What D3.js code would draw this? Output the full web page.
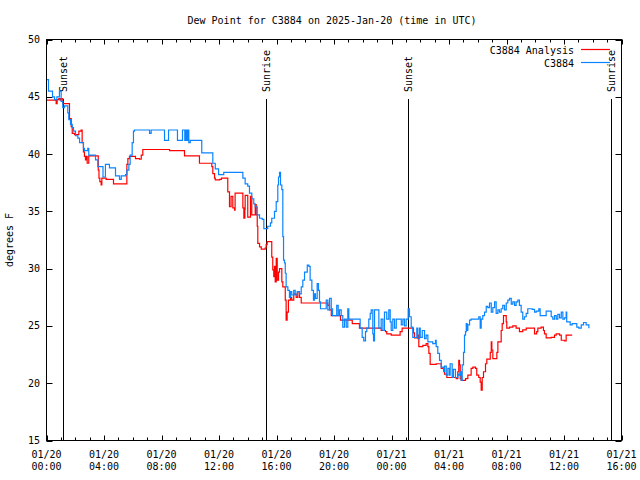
<!DOCTYPE html>
<html>
<head>
<meta charset="utf-8">
<title>Dew Point for C3884</title>
<script src="https://cdn.jsdelivr.net/npm/d3@7"></script>
<style>
  body { margin: 0; background: #fff; }
  svg { display: block; font-family: "DejaVu Sans Mono", monospace; font-size: 10px; }
  .frame { fill: none; stroke: #000; }
  .tick { stroke: #000; }
  .series { fill: none; stroke-width: 1.2; }
</style>
</head>
<body>
<svg width="640" height="480"></svg>
<script>
// hours since 2025-01-20 00:00 UTC
const obsHours = [0,0.14,0.42,0.56,0.72,0.90,1.02,1.13,1.25,1.48,
  1.55,1.67,1.79,1.88,2.02,2.18,2.30,2.57,2.64,2.87,
  2.94,3.41,3.57,3.93,4.10,4.38,4.80,5.08,5.20,5.50,
  5.59,5.73,5.82,5.96,6.05,6.12,7.17,7.28,8.21,8.49,
  9.11,9.46,9.62,9.69,9.76,9.83,9.90,10.00,10.80,11.57,
  11.74,11.97,12.33,13.66,13.82,14.00,14.12,14.28,14.42,14.52,
  14.66,14.82,15.01,15.12,15.39,15.58,15.67,15.86,15.98,16.09,
  16.14,16.21,16.28,16.37,16.44,16.49,16.56,16.61,16.67,16.79,
  16.90,16.97,17.06,17.20,17.30,17.44,17.60,17.72,17.83,17.95,
  18.14,18.25,18.34,18.46,18.57,18.64,18.71,18.83,18.92,18.99,
  19.06,19.46,19.57,19.69,19.81,19.90,20.19,20.29,20.38,20.50,
  20.61,20.73,20.85,20.96,21.03,21.82,21.96,22.07,22.19,22.28,
  22.42,22.52,22.59,22.70,22.75,22.82,23.12,23.28,23.40,23.51,
  23.67,23.81,23.91,23.98,24.09,24.21,24.33,24.68,24.79,24.90,
  25.02,25.16,25.25,25.37,25.48,25.76,25.83,25.95,26.00,26.14,
  26.30,26.41,26.53,26.87,27.06,27.11,27.22,27.34,27.46,27.62,
  27.69,27.81,27.92,28.03,28.08,28.22,28.31,28.45,28.61,28.68,
  28.78,28.85,28.92,29.01,29.08,29.15,29.20,29.26,29.31,29.43,
  29.54,30.07,30.17,30.24,30.35,30.47,30.59,30.70,30.82,30.94,
  31.05,31.17,31.28,31.40,31.51,31.63,31.74,31.86,31.98,32.09,
  32.21,32.33,32.44,32.56,32.67,32.79,32.90,33.02,33.13,33.25,
  33.37,33.48,33.79,33.95,34.07,34.25,34.34,34.76,35.11,35.22,
  35.34,35.46,35.57,35.69,35.81,35.92,36.03,36.15,36.19,36.43,
  36.57,36.73,36.89,37.03,37.20,37.36,37.54,37.73];
const obsDew = [46.5,45.5,45.0,44.75,45.0,45.5,44.6,44.05,44.2,43.6,
  43.0,42.6,42.3,42.0,41.6,41.4,41.0,40.5,40.3,40.5,
  39.9,39.5,38.9,38.0,39.1,38.8,38.1,37.8,38.1,38.2,
  38.6,39.1,39.9,41.0,42.0,42.1,41.8,42.1,41.2,42.1,
  41.2,42.1,41.2,42.1,41.2,42.1,41.0,41.2,40.1,39.2,
  38.7,38.2,38.4,37.9,37.4,37.2,36.6,36.1,35.65,35.4,
  34.7,34.4,34.3,33.5,33.7,34.0,34.4,35.0,35.85,37.3,
  38.0,38.4,37.3,36.9,32.8,30.75,30.5,29.6,28.4,28.1,
  27.5,28.0,27.7,28.1,27.7,28.0,27.8,28.4,29.0,29.7,
  30.3,30.2,29.0,28.1,27.25,27.8,27.4,28.7,28.1,27.1,
  26.5,27.25,26.4,27.4,26.5,25.9,26.8,25.9,26.4,25.9,
  24.9,25.6,24.9,26.5,25.6,24.8,24.0,23.7,24.5,24.8,
  25.6,26.1,26.4,24.3,23.7,26.4,24.8,25.6,24.6,26.2,
  25.6,26.4,25.35,24.6,25.6,24.8,25.6,25.1,25.6,25.0,
  25.6,26.5,25.8,24.9,24.0,24.8,23.9,24.8,24.0,24.6,
  23.9,24.2,23.6,23.45,23.75,23.2,22.6,22.0,21.4,21.0,
  21.5,20.7,21.3,20.7,21.7,20.5,21.2,20.5,20.8,20.7,
  21.0,20.25,21.6,22.7,24.2,24.5,25.2,24.6,25.1,25.5,
  25.6,25.8,24.8,25.6,25.9,26.2,26.7,26.6,27.0,26.2,
  26.6,27.1,26.1,26.4,26.2,26.5,26.8,26.4,27.0,27.25,
  27.4,26.9,27.1,26.8,27.1,27.25,26.8,26.2,25.6,25.8,
  26.1,26.5,26.45,26.2,26.3,26.5,25.9,26.3,25.8,25.6,
  25.9,25.6,26.0,25.7,26.2,25.6,25.7,26.2,25.35,25.1,
  25.2,25.2,24.9,24.8,25.1,25.3,25.1,24.8];

const anaHours = [0,0.67,0.74,0.86,0.95,1.02,1.13,1.60,1.72,1.79,
  1.95,2.25,2.41,2.48,2.57,2.64,2.71,2.76,2.83,2.94,
  3.60,3.65,3.71,3.80,3.85,4.15,4.66,5.59,5.66,5.77,
  6.19,6.47,6.59,6.70,8.56,9.60,10.64,11.50,11.57,11.69,
  11.74,12.05,12.17,12.61,12.73,12.84,12.96,13.08,13.12,13.66,
  13.73,13.80,13.82,14.00,14.19,14.28,14.52,14.59,14.66,14.70,
  14.82,14.94,15.21,15.28,15.35,15.67,15.74,15.81,15.86,15.91,
  15.98,16.05,16.14,16.21,16.37,16.44,16.61,16.67,16.74,16.83,
  16.97,17.06,17.20,17.37,17.48,17.60,17.72,19.57,19.69,19.81,
  20.45,21.27,21.77,23.28,23.58,23.67,23.98,24.60,24.74,25.53,
  25.60,25.83,25.90,26.18,26.41,26.53,26.60,26.69,27.11,27.46,
  27.69,27.85,28.50,28.61,28.68,28.73,28.78,28.85,29.15,29.31,
  29.54,29.66,29.84,29.93,30.07,30.17,30.24,30.31,30.40,30.54,
  30.63,30.87,30.94,30.98,31.05,31.33,31.40,31.63,31.70,31.79,
  31.98,32.02,32.21,32.44,32.67,32.90,33.13,33.37,33.95,34.10,
  34.18,34.41,34.57,34.64,34.76,35.11,35.34,35.46,35.69,35.81,
  36.03,36.15,36.57];
const anaDew = [44.7,44.4,44.75,44.85,44.7,44.85,44.4,43.1,42.4,41.8,
  41.7,42.0,42.1,41.0,40.2,39.8,39.5,39.8,39.2,39.85,
  38.6,37.9,37.6,37.3,37.9,37.8,37.4,39.1,39.6,39.8,
  39.6,39.55,39.9,40.4,40.3,39.85,39.2,38.9,38.3,37.9,
  37.75,37.8,37.9,36.7,35.4,36.3,35.3,35.1,36.6,35.3,
  34.4,35.2,36.4,34.5,36.3,34.7,35.6,34.7,33.7,32.2,
  31.9,31.7,31.8,32.1,32.35,31.0,29.9,29.3,30.2,28.85,
  30.9,29.0,29.7,30.0,28.85,28.4,27.25,25.5,26.2,27.25,
  27.5,27.25,27.8,27.5,28.0,27.5,27.0,26.8,26.4,25.9,
  25.5,25.2,24.8,24.6,24.5,24.3,24.2,24.5,24.8,24.4,
  23.95,24.2,23.2,23.3,23.45,23.2,22.6,21.65,21.7,21.3,
  20.8,20.5,20.4,21.0,22.0,21.6,20.4,20.25,20.4,20.7,
  21.3,21.4,21.3,20.7,20.5,20.1,19.4,20.5,21.0,21.7,
  22.1,22.7,23.6,22.9,22.15,22.7,23.6,24.6,25.2,25.9,
  25.35,24.8,24.9,25.0,24.8,24.5,24.65,24.8,24.3,24.5,
  24.8,24.9,24.6,24.3,23.95,24.0,24.2,24.3,24.2,23.75,
  23.7,24.2,24.2];

const sunHours = [1.13, 15.28, 25.16, 39.3];
const sunNames = ["Sunset", "Sunrise", "Sunset", "Sunrise"];
const seriesNames = ["C3884 Analysis", "C3884"];
const seriesColors = ["#ff0000", "#0a84ff"];
const yTicks = [15, 20, 25, 30, 35, 40, 45, 50];

const t0 = Date.UTC(2025, 0, 20, 0, 0);
const toDate = h => new Date(t0 + h * 3600e3);

const svg = d3.select("svg");
const plotLeft = 46.5, plotRight = 621.5, plotTop = 39.5, plotBottom = 440.5;

const x = d3.scaleUtc().domain([toDate(0), toDate(40)]).range([plotLeft, plotRight]);
const y = d3.scaleLinear().domain([15, 50]).range([plotBottom, plotTop]);

svg.append("text")
  .attr("x", 332).attr("y", 24)
  .attr("text-anchor", "middle")
  .text("Dew Point for C3884 on 2025-Jan-20 (time in UTC)");

svg.append("text")
  .attr("transform", "translate(13,240) rotate(-90)")
  .attr("text-anchor", "middle")
  .text("degrees F");

// x ticks, hourly minor, 4-hourly major with labels
const hours = x.ticks(d3.utcHour.every(1));
hours.forEach(d => {
  const major = d.getUTCHours() % 4 === 0;
  const len = major ? 5 : 3;
  const px = Math.round(x(d)) + 0.5;
  svg.append("line").attr("class", "tick")
    .attr("x1", px).attr("x2", px).attr("y1", plotBottom).attr("y2", plotBottom - len);
  svg.append("line").attr("class", "tick")
    .attr("x1", px).attr("x2", px).attr("y1", plotTop).attr("y2", plotTop + len);
  if (major) {
    const t = svg.append("text").attr("text-anchor", "middle");
    t.append("tspan").attr("x", x(d)).attr("y", 458).text(d3.utcFormat("%m/%d")(d));
    t.append("tspan").attr("x", x(d)).attr("y", 470).text(d3.utcFormat("%H:%M")(d));
  }
});

yTicks.forEach(v => {
  const py = Math.round(y(v)) + 0.5;
  svg.append("line").attr("class", "tick")
    .attr("x1", plotLeft).attr("x2", plotLeft + 6).attr("y1", py).attr("y2", py);
  svg.append("line").attr("class", "tick")
    .attr("x1", plotRight).attr("x2", plotRight - 6).attr("y1", py).attr("y2", py);
  svg.append("text")
    .attr("x", 40).attr("y", y(v)).attr("dy", "0.35em")
    .attr("text-anchor", "end")
    .text(v);
});

svg.append("clipPath").attr("id", "plot")
  .append("rect").attr("x", plotLeft).attr("y", plotTop)
  .attr("width", plotRight - plotLeft).attr("height", plotBottom - plotTop);

// sunrise / sunset markers
sunHours.forEach((h, i) => {
  const px = Math.round(x(toDate(h))) + 0.5;
  svg.append("line").attr("class", "tick")
    .attr("x1", px).attr("x2", px).attr("y1", 99).attr("y2", plotBottom);
  svg.append("text")
    .attr("transform", `translate(${px},92) rotate(-90)`)
    .attr("dy", "0.35em")
    .text(sunNames[i]);
});

const line = d3.line()
  .x(d => x(toDate(d[0])))
  .y(d => y(d[1]))
  .curve(d3.curveStepAfter);

const series = [
  d3.zip(anaHours, anaDew),
  d3.zip(obsHours, obsDew)
];

series.forEach((s, i) => {
  svg.append("path")
    .attr("class", "series")
    .attr("clip-path", "url(#plot)")
    .attr("stroke", seriesColors[i])
    .attr("d", line(s));
});

// legend
seriesNames.forEach((name, i) => {
  const ly = 50 + i * 13;
  svg.append("text")
    .attr("x", 574).attr("y", ly).attr("dy", "0.35em")
    .attr("text-anchor", "end")
    .text(name);
  svg.append("line")
    .attr("x1", 581).attr("x2", 610)
    .attr("y1", ly - 0.5).attr("y2", ly - 0.5)
    .attr("stroke", seriesColors[i]).attr("stroke-width", 1.2);
});

svg.append("rect").attr("class", "frame")
  .attr("x", plotLeft).attr("y", plotTop)
  .attr("width", plotRight - plotLeft).attr("height", plotBottom - plotTop);
</script>
</body>
</html>
